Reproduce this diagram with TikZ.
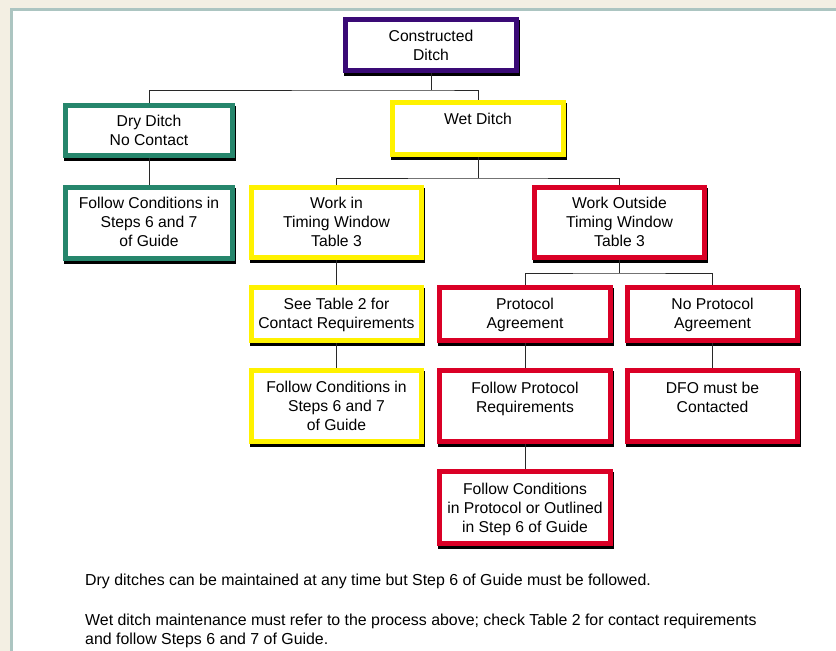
\documentclass[tikz,border=0pt]{standalone}
\usepackage{fontspec}
\setmainfont{Liberation Sans}
\definecolor{cpurple}{RGB}{58,10,118}
\definecolor{cteal}{RGB}{38,134,108}
\definecolor{cyellow}{RGB}{255,242,0}
\definecolor{cred}{RGB}{218,0,38}
\definecolor{linkc}{RGB}{40,40,40}
\definecolor{bgbeige}{RGB}{243,239,227}
\definecolor{frameline}{RGB}{172,197,193}
\newcommand\flowbox[8]{%
  \node[box=#2, minimum width=#5pt, minimum height=#6pt] (#1) at (#3,#4) {};
  \node[txt] (#1T) at ([yshift=-#7pt]#1.north) {#8};}
\begin{document}
\begin{tikzpicture}[x=1pt,y=-1pt,
  box/.style={draw=#1, line width=5pt, fill=white, rectangle, inner sep=0pt,
    preaction={draw=black, line width=5pt, transform canvas={xshift=1pt,yshift=-2.5pt}}},
  txt/.style={align=center, inner sep=0pt, anchor=north, font=\fontsize{15.7}{19}\selectfont},
  note/.style={align=left, inner sep=0pt, anchor=north west, font=\fontsize{15.9}{19}\selectfont},
  link/.style={draw=linkc, line width=1pt}]
\useasboundingbox (0,0) rectangle (836,651);
\fill[bgbeige] (0,0) rectangle (836,651);
\fill[frameline] (10,8) rectangle (836,651);
\fill[white] (12.5,10.5) rectangle (836,651);

\flowbox{top}{cpurple}{431}{45}{171}{51}{13}{Constructed\\Ditch}
\flowbox{dry}{cteal}{149}{130.5}{167}{50}{12}{Dry Ditch\\No Contact}
\flowbox{dryf}{cteal}{149}{223}{167}{71}{12}{Follow Conditions in\\Steps 6 and 7\\of Guide}
\flowbox{wet}{cyellow}{478}{128.5}{171}{52}{13}{Wet Ditch}
\flowbox{win}{cyellow}{336.5}{222.5}{170}{70}{12}{Work in\\Timing Window\\Table 3}
\flowbox{wout}{cred}{619.5}{222.5}{170}{70}{12}{Work Outside\\Timing Window\\Table 3}
\flowbox{see}{cyellow}{336.5}{314}{170}{53}{12.5}{See Table 2 for\\Contact Requirements}
\flowbox{yf}{cyellow}{336.5}{406}{170}{71}{13}{Follow Conditions in\\Steps 6 and 7\\of Guide}
\flowbox{pa}{cred}{525}{314}{171}{53}{12.5}{Protocol\\Agreement}
\flowbox{npa}{cred}{712.5}{314}{170}{53}{12.5}{No Protocol\\Agreement}
\flowbox{fpr}{cred}{525}{406}{171}{71}{13.5}{Follow Protocol\\Requirements}
\flowbox{dfo}{cred}{712.5}{406}{170}{71}{13.5}{DFO must be\\Contacted}
\flowbox{fcp}{cred}{525}{507.5}{171}{72}{13.5}{Follow Conditions\\in Protocol or Outlined\\in Step 6 of Guide}

\draw[link] (top.south) -- ++(0,17) coordinate (j1);
\draw[link] (dry.north) |- (j1) -| (wet.north);
\draw[link] (dry.south) -- (dryf.north);
\draw[link] (wet.south) -- ++(0,21) coordinate (j2);
\draw[link] (win.north) |- (j2) -| (wout.north);
\draw[link] (win.south) -- (see.north);
\draw[link] (see.south) -- (yf.north);
\draw[link] (wout.south) -- ++(0,13) coordinate (j3);
\draw[link] (pa.north) |- (j3) -| (npa.north);
\draw[link] (pa.south) -- (fpr.north);
\draw[link] (npa.south) -- (dfo.north);
\draw[link] (fpr.south) -- (fcp.north);

\node[note] (note1) at (85,573.5) {Dry ditches can be maintained at any time but Step 6 of Guide must be followed.};
\node[note] (note2) at (85,613.5) {Wet ditch maintenance must refer to the process above; check Table 2 for contact requirements\\and follow Steps 6 and 7 of Guide.};
\end{tikzpicture}
\end{document}
